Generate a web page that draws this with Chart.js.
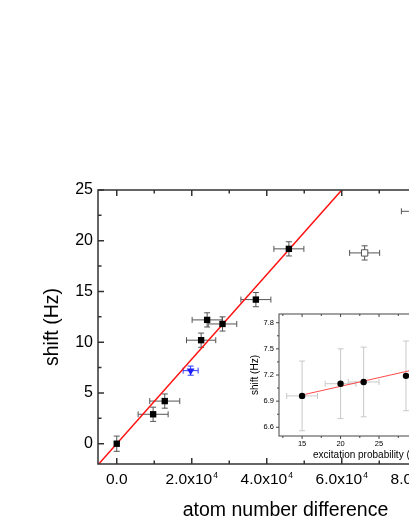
<!DOCTYPE html>
<html>
<head>
<meta charset="utf-8">
<script src="https://cdn.jsdelivr.net/npm/chart.js@4.4.1/dist/chart.umd.min.js"></script>
<style>
html, body { margin: 0; padding: 0; background: #fff; overflow: hidden; }
#wrap { position: relative; width: 409px; height: 529px; overflow: hidden; background: #fff; }
#main-chart { position: absolute; left: 0; top: 0; }
#inset-chart { position: absolute; left: 230px; top: 300px; }
</style>
</head>
<body>
<div id="wrap">
	<canvas id="main-chart" width="480" height="529"></canvas>
	<canvas id="inset-chart" width="240" height="170"></canvas>
</div>
<script>
// 메인 그래프 데이터 (atom number difference / shift)
var mainX = [0, 9700, 12800, 22500, 24100, 28200, 37100, 45900];
var mainY = [0, 2.9, 4.2, 10.2, 12.2, 11.8, 14.2, 19.2];
var mainXErr = [0, 4000, 4000, 3900, 4000, 3800, 4000, 4000];
var mainYErr = [0.75, 0.7, 0.7, 0.7, 0.7, 0.7, 0.7, 0.7];
// 파란 삼각형
var blueX = [19700];
var blueY = [7.2];
var blueXErr = [2000];
var blueYErr = [0.45];
// 빈 사각형
var openX = [66100, 79900];
var openY = [18.8, 22.9];
var openXErr = [4000, 4000];
var openYErr = [0.7, 0.7];
// 빨간 피팅선
var fitX = [-5000, 62000];
var fitY = [-2.08, 25.83];
// 눈금 (라벨 + 지수)
var mainXTicks = [0, 10000, 20000, 30000, 40000, 50000, 60000, 70000, 80000, 90000];
var mainXTickLabels = ['0.0', '', '2.0x10', '', '4.0x10', '', '6.0x10', '', '8.0x10', ''];
var mainXTickExp = ['', '', '4', '', '4', '', '4', '', '4', ''];
var mainYTicks = [0, 2.5, 5, 7.5, 10, 12.5, 15, 17.5, 20, 22.5, 25];
var mainYTickLabels = ['0', '', '5', '', '10', '', '15', '', '20', '', '25'];

// 인셋 데이터 (excitation probability / shift)
var insetX = [15, 20, 23, 28.5];
var insetY = [6.96, 7.1, 7.12, 7.19];
var insetXErr = [2, 2, 2, 0];
var insetYErr = [0.4, 0.4, 0.4, 0.4];
var insetFitX = [15, 35];
var insetFitY = [6.97, 7.37];
var insetXTicks = [12.5, 15, 17.5, 20, 22.5, 25, 27.5, 30, 32.5, 35];
var insetXTickLabels = ['', '15', '', '20', '', '25', '', '30', '', '35'];
var insetYTicks = [6.6, 6.75, 6.9, 7.05, 7.2, 7.35, 7.5, 7.65, 7.8];
var insetYTickLabels = ['6.6', '', '6.9', '', '7.2', '', '7.5', '', '7.8'];

var FONT = '"Liberation Sans", Arial, sans-serif';
Chart.defaults.font.family = FONT;
Chart.defaults.color = '#000';

/**
 * x,y 배열을 포인트 배열로
 */
function toPoints(xs, ys) {
	return xs.map(function(x, i) {
		return { x : x, y : ys[i] };
	});
}

/**
 * 에러바 그리기 (데이터셋의 errX, errY 사용)
 */
var errorBarPlugin = {
	id : 'errorBars',
	beforeDatasetsDraw : function(chart, args, opts) {
		var ctx = chart.ctx;
		var a = chart.chartArea;
		var xs = chart.scales.x, ys = chart.scales.y;
		ctx.save();
		ctx.beginPath();
		ctx.rect(a.left, a.top, a.right - a.left, a.bottom - a.top);
		ctx.clip();
		ctx.lineWidth = 1;
		chart.data.datasets.forEach(function(ds) {
			if (!ds.errX && !ds.errY) return;
			ctx.strokeStyle = ds.errColor;
			ds.data.forEach(function(p, i) {
				var px = xs.getPixelForValue(p.x);
				var py = ys.getPixelForValue(p.y);
				var c = opts.cap;
				ctx.beginPath();
				if (ds.errX && ds.errX[i]) {
					var x1 = xs.getPixelForValue(p.x - ds.errX[i]);
					var x2 = xs.getPixelForValue(p.x + ds.errX[i]);
					ctx.moveTo(x1, py); ctx.lineTo(x2, py);
					ctx.moveTo(x1, py - c); ctx.lineTo(x1, py + c);
					ctx.moveTo(x2, py - c); ctx.lineTo(x2, py + c);
				}
				if (ds.errY && ds.errY[i]) {
					var y1 = ys.getPixelForValue(p.y - ds.errY[i]);
					var y2 = ys.getPixelForValue(p.y + ds.errY[i]);
					ctx.moveTo(px, y1); ctx.lineTo(px, y2);
					ctx.moveTo(px - c, y1); ctx.lineTo(px + c, y1);
					ctx.moveTo(px - c, y2); ctx.lineTo(px + c, y2);
				}
				ctx.stroke();
			});
		});
		ctx.restore();
	}
};

/**
 * 테두리 + 눈금 (+ 지수 라벨)
 */
var frameTicksPlugin = {
	id : 'frameTicks',
	afterDraw : function(chart, args, opts) {
		var ctx = chart.ctx;
		var a = chart.chartArea;
		var xs = chart.scales.x, ys = chart.scales.y;
		// 왼쪽/아래 눈금 방향 (안쪽 1, 바깥 -1)
		var dir = opts.outward ? -1 : 1;
		ctx.save();
		ctx.strokeStyle = opts.color;
		ctx.lineWidth = opts.width;
		ctx.beginPath();
		opts.xTicks.forEach(function(v, i) {
			var px = xs.getPixelForValue(v);
			var len = opts.xLabels[i] !== '' ? opts.major : opts.minor;
			ctx.moveTo(px, a.bottom); ctx.lineTo(px, a.bottom - len * dir);
			ctx.moveTo(px, a.top); ctx.lineTo(px, a.top + len);
		});
		opts.yTicks.forEach(function(v, i) {
			var py = ys.getPixelForValue(v);
			var len = opts.yLabels[i] !== '' ? opts.major : opts.minor;
			ctx.moveTo(a.left, py); ctx.lineTo(a.left + len * dir, py);
			ctx.moveTo(a.right, py); ctx.lineTo(a.right - len, py);
		});
		ctx.stroke();
		ctx.strokeRect(a.left, a.top, a.right - a.left, a.bottom - a.top);

		// x 눈금 라벨 직접 그리기 (위첨자 지수)
		if (opts.xExp) {
			ctx.fillStyle = '#000';
			ctx.textBaseline = 'alphabetic';
			ctx.textAlign = 'left';
			var base = a.bottom + opts.labelOffset;
			opts.xTicks.forEach(function(v, i) {
				var txt = opts.xLabels[i];
				if (txt === '') return;
				var px = xs.getPixelForValue(v);
				ctx.font = opts.labelSize + 'px ' + FONT;
				var w1 = ctx.measureText(txt).width;
				ctx.font = opts.expSize + 'px ' + FONT;
				var w2 = opts.xExp[i] ? ctx.measureText(opts.xExp[i]).width + 1 : 0;
				var x0 = px - (w1 + w2) / 2;
				ctx.font = opts.labelSize + 'px ' + FONT;
				ctx.fillText(txt, x0, base);
				if (opts.xExp[i]) {
					ctx.font = opts.expSize + 'px ' + FONT;
					ctx.fillText(opts.xExp[i], x0 + w1 + 1, base - opts.expRaise);
				}
			});
		}
		ctx.restore();
	}
};

/**
 * 메인 차트 생성
 */
function createMainChart() {
	var canvas = document.getElementById('main-chart');
	new Chart(canvas, {
		type : 'scatter',
		data : {
			datasets : [ {
				data : toPoints(mainX, mainY),
				errX : mainXErr,
				errY : mainYErr,
				errColor : '#555',
				pointStyle : 'rect',
				pointRadius : 4.5,
				backgroundColor : '#000',
				borderColor : '#000',
				borderWidth : 0
			}, {
				data : toPoints(blueX, blueY),
				errX : blueXErr,
				errY : blueYErr,
				errColor : '#2a3cff',
				pointStyle : 'triangle',
				rotation : 180,
				pointRadius : 4.5,
				backgroundColor : '#1c1cff',
				borderColor : '#1c1cff',
				borderWidth : 0
			}, {
				data : toPoints(openX, openY),
				errX : openXErr,
				errY : openYErr,
				errColor : '#555',
				pointStyle : 'rect',
				pointRadius : 4.5,
				backgroundColor : '#fff',
				borderColor : '#555',
				borderWidth : 1
			}, {
				data : toPoints(fitX, fitY),
				showLine : true,
				pointRadius : 0,
				borderColor : '#ff1010',
				borderWidth : 1.5
			} ]
		},
		options : {
			responsive : false,
			animation : false,
			events : [],
			layout : {
				autoPadding : false,
				padding : { top : 190, right : 7, left : 0, bottom : 0 }
			},
			plugins : {
				legend : { display : false },
				tooltip : { enabled : false },
				errorBars : { cap : 3 },
				frameTicks : {
					color : '#333', width : 1.5, major : 6, minor : 3.5,
					xTicks : mainXTicks, xLabels : mainXTickLabels, xExp : mainXTickExp,
					yTicks : mainYTicks, yLabels : mainYTickLabels,
					labelSize : 15.5, expSize : 8.5, expRaise : 6, labelOffset : 20
				}
			},
			scales : {
				x : {
					type : 'linear',
					min : -5000,
					max : 95000,
					afterBuildTicks : function(scale) {
						scale.ticks = mainXTicks.map(function(v) { return { value : v }; });
					},
					afterFit : function(scale) { scale.height = 65; },
					grid : { display : false, drawTicks : false },
					border : { display : false },
					ticks : {
						autoSkip : false,
						maxRotation : 0,
						callback : function() { return ''; }
					},
					title : {
						display : true,
						text : 'atom number difference',
						font : { size : 19.5 },
						padding : { top : 0, bottom : 7 }
					}
				},
				y : {
					type : 'linear',
					min : -2,
					max : 25,
					afterBuildTicks : function(scale) {
						scale.ticks = mainYTicks.map(function(v) { return { value : v }; });
					},
					afterFit : function(scale) { scale.width = 98; },
					grid : { display : false, drawTicks : false },
					border : { display : false },
					ticks : {
						autoSkip : false,
						padding : 5,
						font : { size : 16 },
						callback : function(v) { return mainYTickLabels[mainYTicks.indexOf(v)]; }
					},
					title : {
						display : true,
						text : 'shift (Hz)',
						font : { size : 19.5 },
						padding : { top : 41, bottom : 0 }
					}
				}
			}
		},
		plugins : [ errorBarPlugin, frameTicksPlugin ]
	});
}

/**
 * 인셋 차트 생성
 */
function createInsetChart() {
	var canvas = document.getElementById('inset-chart');
	new Chart(canvas, {
		type : 'scatter',
		data : {
			datasets : [ {
				data : toPoints(insetX, insetY),
				errX : insetXErr,
				errY : insetYErr,
				errColor : '#c8c8c8',
				pointStyle : 'circle',
				pointRadius : 3.2,
				backgroundColor : '#000',
				borderColor : '#000',
				borderWidth : 0
			}, {
				data : toPoints(insetFitX, insetFitY),
				showLine : true,
				pointRadius : 0,
				borderColor : '#ff4a4a',
				borderWidth : 1
			} ]
		},
		options : {
			responsive : false,
			animation : false,
			events : [],
			layout : {
				autoPadding : false,
				padding : { top : 14, right : 14, left : 0, bottom : 0 }
			},
			plugins : {
				legend : { display : false },
				tooltip : { enabled : false },
				errorBars : { cap : 3 },
				frameTicks : {
					color : '#444', width : 1, major : 3, minor : 2, outward : true,
					xTicks : insetXTicks, xLabels : insetXTickLabels,
					yTicks : insetYTicks, yLabels : insetYTickLabels
				}
			},
			scales : {
				x : {
					type : 'linear',
					min : 12,
					max : 35,
					afterBuildTicks : function(scale) {
						scale.ticks = insetXTicks.map(function(v) { return { value : v }; });
					},
					afterFit : function(scale) { scale.height = 34; },
					grid : { display : false, drawTicks : false },
					border : { display : false },
					ticks : {
						autoSkip : false,
						maxRotation : 0,
						padding : 3,
						font : { size : 7.5 },
						callback : function(v) { return insetXTickLabels[insetXTicks.indexOf(v)]; }
					},
					title : {
						display : true,
						text : 'excitation probability (%)',
						font : { size : 10 },
						padding : { top : 0, bottom : 9 }
					}
				},
				y : {
					type : 'linear',
					min : 6.5,
					max : 7.9,
					afterBuildTicks : function(scale) {
						scale.ticks = insetYTicks.map(function(v) { return { value : v }; });
					},
					afterFit : function(scale) { scale.width = 49; },
					grid : { display : false, drawTicks : false },
					border : { display : false },
					ticks : {
						autoSkip : false,
						padding : 5,
						font : { size : 7.5 },
						callback : function(v) { return insetYTickLabels[insetYTicks.indexOf(v)]; }
					},
					title : {
						display : true,
						text : 'shift (Hz)',
						font : { size : 10 },
						padding : { top : 19, bottom : 0 }
					}
				}
			}
		},
		plugins : [ errorBarPlugin, frameTicksPlugin ]
	});
}

createMainChart();
createInsetChart();
</script>
</body>
</html>
